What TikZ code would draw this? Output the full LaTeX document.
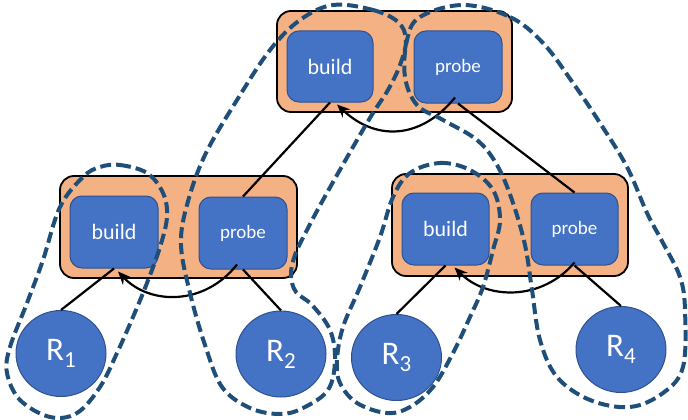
\documentclass[tikz,border=0pt]{standalone}
\usepackage{fontspec}
\setmainfont{Carlito}
\usetikzlibrary{shapes.geometric,arrows.meta}
\definecolor{boxorange}{HTML}{F4B183}
\definecolor{opblue}{HTML}{4472C4}
\definecolor{opedge}{HTML}{2F528F}
\definecolor{grpblue}{HTML}{1F4E79}
\tikzset{
  joinbox/.style={draw=black, line width=1.8pt, fill=boxorange, rounded corners=14pt, inner sep=0pt, minimum width=235pt, minimum height=101pt},
  opbox/.style={draw=opedge, line width=1pt, fill=opblue, rounded corners=12pt, inner sep=0pt, minimum width=88pt, minimum height=72pt, text=white},
  buildtxt/.style={font=\fontsize{22}{26}\selectfont},
  probetxt/.style={font=\fontsize{19}{22}\selectfont},
  rel/.style={ellipse, draw=opedge, line width=1pt, fill=opblue, inner sep=0pt, minimum width=90pt, minimum height=86pt, text=white, font=\fontsize{33}{36}\selectfont},
  edge/.style={black, line width=2.2pt},
  pipe/.style={black, line width=2.2pt, -{Stealth[length=13pt,width=11pt]}},
  group/.style={grpblue, line width=4pt, dash pattern=on 11pt off 5pt}
}
\newcommand{\relname}[1]{R\raisebox{-7pt}{\fontsize{23}{23}\selectfont #1}}
\begin{document}
\begin{tikzpicture}[x=1pt,y=-1pt]
\useasboundingbox (0,0) rectangle (688,420);
% join boxes
\node[joinbox] (tj) at (394.5,61.5) {};
\node[joinbox, minimum width=237pt, minimum height=102pt] (lj) at (178.5,227) {};
\node[joinbox, minimum width=236pt, minimum height=102pt] (rj) at (510,225) {};
% operators
\node[opbox, buildtxt, minimum width=86pt, minimum height=71pt] (tb) at (330,66.5) {build};
\node[opbox, probetxt] (tp) at (458,67) {probe};
\node[opbox, buildtxt] (lb) at (114,232) {build};
\node[opbox, probetxt] (lp) at (243,233) {probe};
\node[opbox, buildtxt, minimum width=87pt] (rb) at (445.5,229) {build};
\node[opbox, probetxt, minimum width=87pt] (rp) at (574.5,229) {probe};
% relations
\node[rel] (r1) at (61,353.5) {\relname{1}};
\node[rel] (r2) at (281,354) {\relname{2}};
\node[rel] (r3) at (396.5,357.5) {\relname{3}};
\node[rel] (r4) at (621,349.5) {\relname{4}};
% tree edges
\draw[edge] (tb.south) -- (lp.north);
\draw[edge] (tp.south) -- (rp.north);
\draw[edge] (lb.south) -- (r1.north);
\draw[edge] (lp.south) -- (r2.north);
\draw[edge] (rb.south) -- (r3.north);
\draw[edge] (rp.south) -- (r4.north);
% pipeline arrows
\draw[pipe] ([xshift=-3pt,yshift=6pt]tp.south) .. controls +(-35,43) and +(38,36) .. ([xshift=7pt,yshift=-2pt]tb.south);
\draw[pipe] ([xshift=-6pt,yshift=5pt]lp.south) .. controls +(-32,41) and +(32,34) .. ([xshift=4pt,yshift=-3pt]lb.south);
\draw[pipe] ([xshift=0pt,yshift=3pt]rp.south) .. controls +(-32,38) and +(33,33) .. ([xshift=9pt,yshift=-2pt]rb.south);
% dashed groups
\draw[group] plot[smooth cycle, tension=0.6] coordinates {
 (100,167) (120,165) (147,173) (163,193) (167,217) (160,247) (147,283) (133,317) (117,353) (100,387) (77,413) (50,417) (20,400) (7,373) (10,347) (27,303) (43,260) (60,207) (83,177)};
\draw[group] plot[smooth cycle, tension=0.6] coordinates {
 (333,5) (373,10) (398,22) (406,40) (400,65) (388,90) (373,113) (353,147) (323,200) (307,230) (295,255) (291,275) (296,292) (312,305) (330,330) (335,360) (328,390) (303,408) (280,414) (250,408) (222,387) (205,345) (190,293) (181,245) (187,205) (205,155) (237,100) (270,50) (300,20)};
\draw[group] plot[smooth cycle, tension=0.6] coordinates {
 (410,173) (440,163) (470,170) (493,190) (500,220) (493,250) (483,287) (470,317) (453,353) (433,387) (410,407) (387,413) (357,403) (340,383) (337,360) (343,327) (360,287) (380,237) (393,197)};
\draw[group] plot[smooth cycle, tension=0.6] coordinates {
 (463,5) (510,17) (543,43) (573,83) (600,123) (627,167) (647,213) (663,243) (680,277) (685,310) (683,367) (663,393) (630,407) (590,400) (557,377) (540,340) (532,290) (525,245) (512,200) (497,165) (477,140) (443,120) (417,105) (405,77) (407,40) (420,17)};
\end{tikzpicture}
\end{document}
